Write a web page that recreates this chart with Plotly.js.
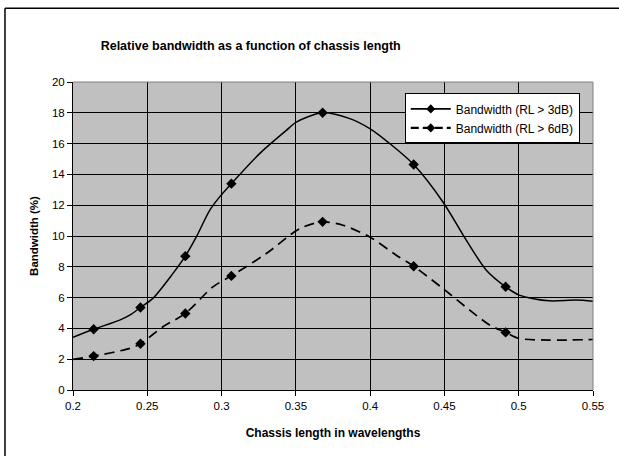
<!DOCTYPE html>
<html><head><meta charset="utf-8">
<script src="https://cdn.plot.ly/plotly-3.0.1.min.js"></script>
<style>body{margin:0;background:#fff}</style>
</head><body><div id="chart" style="width:619px;height:456px"></div>
<script>
// Marker points (chassis length in wavelengths, bandwidth %)
const markerX = [0.2139, 0.2454, 0.2756, 0.3066, 0.3680, 0.4293, 0.4912];
const bw3Markers = [3.94, 5.36, 8.69, 13.40, 18.00, 14.64, 6.70];
const bw6Markers = [2.20, 3.00, 4.97, 7.41, 10.92, 8.04, 3.74];

// Smooth curves
const curve3X = [0.2000, 0.2139, 0.2314, 0.2382, 0.2454, 0.2538, 0.2673, 0.2756, 0.2830, 0.2920, 0.2987, 0.3066, 0.3256, 0.3436, 0.3503, 0.3680, 0.3863, 0.3998, 0.4132, 0.4293, 0.4490, 0.4647, 0.4782, 0.4912, 0.5003, 0.5204, 0.5387, 0.5544];
const curve3Y = [3.42, 3.94, 4.54, 4.86, 5.36, 5.95, 7.57, 8.69, 9.94, 11.67, 12.54, 13.40, 15.35, 16.86, 17.40, 18.00, 17.62, 16.97, 16.00, 14.64, 12.21, 9.73, 7.78, 6.70, 6.16, 5.79, 5.84, 5.73];
const curve6X = [0.2000, 0.2139, 0.2382, 0.2454, 0.2606, 0.2756, 0.2942, 0.3066, 0.3301, 0.3526, 0.3678, 0.3817, 0.3997, 0.4176, 0.4293, 0.4490, 0.4670, 0.4804, 0.4912, 0.5003, 0.5205, 0.5544];
const curve6Y = [1.99, 2.20, 2.70, 3.00, 4.11, 4.97, 6.70, 7.41, 8.86, 10.48, 10.92, 10.70, 9.94, 8.75, 8.04, 6.59, 5.19, 4.22, 3.74, 3.35, 3.24, 3.29];

const seriesNames = ['Bandwidth (RL > 3dB)', 'Bandwidth (RL > 6dB)'];
const xTicks = [0.2, 0.25, 0.3, 0.35, 0.4, 0.45, 0.5, 0.55];
const xTickText = ['0.2', '0.25', '0.3', '0.35', '0.4', '0.45', '0.5', '0.55'];
const yTicks = [0, 2, 4, 6, 8, 10, 12, 14, 16, 18, 20];

const FONT = 'Liberation Sans, Arial, sans-serif';
const solid = {color: '#000', width: 1.5, shape: 'spline', smoothing: 0.8};
const dashed = {color: '#000', width: 1.7, dash: '10px,6px', shape: 'spline', smoothing: 0.8};
const mk = {symbol: 'diamond', size: 8, color: '#000'};

const traces = [
  {x: curve3X, y: curve3Y, mode: 'lines', line: solid, showlegend: false, hoverinfo: 'skip'},
  {x: curve6X, y: curve6Y, mode: 'lines', line: dashed, showlegend: false, hoverinfo: 'skip'},
  {x: markerX, y: bw3Markers, mode: 'markers', marker: mk, showlegend: false},
  {x: markerX, y: bw6Markers, mode: 'markers', marker: mk, showlegend: false},
  {x: [null], y: [null], mode: 'lines+markers', name: seriesNames[0], line: {color: '#000', width: 1.6}, marker: {symbol: 'diamond', size: 7, color: '#000'}},
  {x: [null], y: [null], mode: 'lines+markers', name: seriesNames[1], line: {color: '#000', width: 2.2, dash: '8px,4px'}, marker: {symbol: 'diamond', size: 7, color: '#000'}}
];

const layout = {
  width: 619, height: 456,
  margin: {l: 73, r: 26, t: 82, b: 66},
  paper_bgcolor: '#fff', plot_bgcolor: '#c0c0c0',
  font: {family: FONT, size: 11.5, color: '#000'},
  title: {text: 'Relative bandwidth as a function of chassis length', font: {family: FONT, size: 12.5, weight: 'bold', color: '#000'},
          xref: 'container', yref: 'container', x: 0.405, y: 0.901, xanchor: 'center', yanchor: 'middle'},
  xaxis: {range: [0.2, 0.55], tickvals: xTicks, ticktext: xTickText, showgrid: true, gridcolor: '#000', gridwidth: 1,
          zeroline: false, showline: true, linecolor: '#000', linewidth: 1, ticks: 'outside', ticklen: 5, tickcolor: '#000',
          tickfont: {family: FONT, size: 11.5}, automargin: false,
          title: {text: 'Chassis length in wavelengths', font: {family: FONT, size: 12, weight: 'bold'}, standoff: 17}},
  yaxis: {range: [0, 20], tickvals: yTicks, showgrid: true, gridcolor: '#000', gridwidth: 1,
          zeroline: false, showline: true, linecolor: '#000', linewidth: 1, ticks: 'outside', ticklen: 5, tickcolor: '#000',
          tickfont: {family: FONT, size: 11.5}, automargin: false,
          title: {text: 'Bandwidth (%)', font: {family: FONT, size: 11.5, weight: 'bold'}, standoff: 10}},
  legend: {x: 0.638, y: 0.963, xanchor: 'left', yanchor: 'top', bgcolor: '#fff', bordercolor: '#000', borderwidth: 1,
           font: {family: FONT, size: 12}, itemwidth: 40, tracegroupgap: 0},
  shapes: [
    {type: 'line', xref: 'paper', yref: 'paper', x0: 0, x1: 1, y0: 1, y1: 1, line: {color: '#808080', width: 1}, layer: 'above'},
    {type: 'line', xref: 'paper', yref: 'paper', x0: 1, x1: 1, y0: 0, y1: 1, line: {color: '#808080', width: 1}, layer: 'above'},
    {type: 'line', xref: 'paper', yref: 'paper', x0: -0.1308, x1: 1.06, y0: 1.2391, y1: 1.2391, line: {color: '#000', width: 1.5}},
    {type: 'line', xref: 'paper', yref: 'paper', x0: -0.1308, x1: -0.1308, y0: -0.25, y1: 1.2391, line: {color: '#000', width: 1.5}}
  ]
};

Plotly.newPlot('chart', traces, layout, {displayModeBar: false, staticPlot: true});
</script></body></html>
